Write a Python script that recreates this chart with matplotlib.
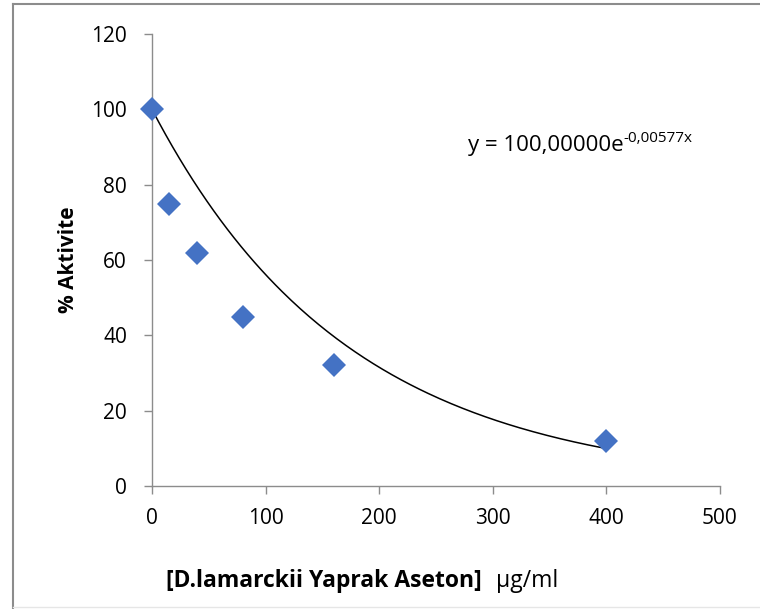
import numpy as np
import matplotlib
matplotlib.use('Agg')
import matplotlib.pyplot as plt
from matplotlib.lines import Line2D

plt.rcParams['font.family'] = ['Open Sans', 'DejaVu Sans']

# veri
konsantrasyon = [0, 15, 40, 80, 160, 400]
aktivite = [100, 75, 62, 45, 32, 12]
a_katsayi = 100.0
b_katsayi = -0.00577

fig = plt.figure(figsize=(7.6, 6.09), dpi=100)
ax = fig.add_axes([0.2, 0.202, 0.747, 0.742])

# trend çizgisi
xt = np.linspace(0, 400, 200)
ax.plot(xt, a_katsayi * np.exp(b_katsayi * xt), color='black', lw=1.1, zorder=2)
ax.plot(konsantrasyon, aktivite, 'D', color='#4472C4', markersize=12,
        markeredgewidth=0, zorder=3, clip_on=False)

ax.set_xlim(0, 500)
ax.set_ylim(0, 120)
ax.set_xticks(range(0, 501, 100))
ax.set_yticks(range(0, 121, 20))
for s in ['top', 'right']:
    ax.spines[s].set_visible(False)
for s in ['left', 'bottom']:
    ax.spines[s].set_color('#8c8c8c')
    ax.spines[s].set_linewidth(1)
ax.tick_params(colors='#8c8c8c', labelcolor='black', labelsize=15,
               direction='out', length=6, width=1)
ax.tick_params(axis='x', pad=10)
ax.tick_params(axis='y', pad=12)

ax.set_ylabel('% Aktivite', fontsize=15, fontweight='bold', labelpad=9)

# denklem
t = ax.text(278, 90.5, 'y = 100,00000e', fontsize=16, va='center')
fig.canvas.draw()
bb = t.get_window_extent()
fig.text(bb.x1 / fig.bbox.width, (bb.y1 - 4) / fig.bbox.height, '-0,00577x',
         fontsize=11, va='center', ha='left')

# x ekseni başlığı
xl = fig.text(166 / 760, 1 - 581 / 609, '[D.lamarckii Yaprak Aseton]',
              fontsize=16.5, fontweight='bold', va='center')
fig.canvas.draw()
bx = xl.get_window_extent()
fig.text((bx.x1 + 14) / fig.bbox.width, 1 - 581 / 609, 'µg/ml', fontsize=16.5, va='center')

# çerçeve
fig.add_artist(Line2D([13 / 760, 13 / 760], [0, 1 - 4 / 609], color='#8c8c8c', lw=1.5))
fig.add_artist(Line2D([13 / 760, 1], [1 - 4 / 609, 1 - 4 / 609], color='#8c8c8c', lw=1.5))
fig.add_artist(Line2D([13 / 760, 1], [2 / 609, 2 / 609], color='#e6e6e6', lw=1))

fig.savefig('out.png', dpi=100)
